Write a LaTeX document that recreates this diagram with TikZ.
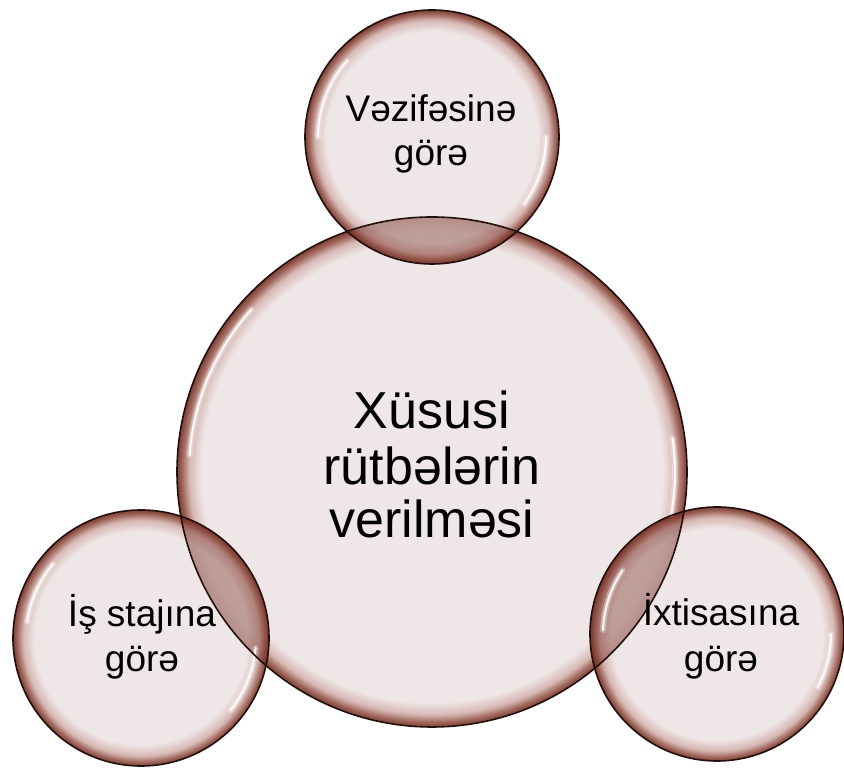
\documentclass[tikz,border=0pt]{standalone}
\usepackage{fontspec}
\setmainfont{Liberation Sans}
\definecolor{bin}{RGB}{237,227,227}
\definecolor{bmidl}{RGB}{208,172,167}
\definecolor{bmidd}{RGB}{145,78,66}
\definecolor{bedge}{RGB}{100,30,18}
\definecolor{bline}{RGB}{35,15,12}
\definecolor{blens}{RGB}{120,50,40}
\pgfdeclareradialshading{bubsmall}{\pgfpoint{0bp}{0bp}}{color(0bp)=(bin); color(20.8bp)=(bin); color(23bp)=(bmidl); color(24.2bp)=(bmidd); color(25bp)=(bedge); color(50bp)=(bedge)}
\pgfdeclareradialshading{bubbig}{\pgfpoint{0bp}{0bp}}{color(0bp)=(bin); color(22.6bp)=(bin); color(23.8bp)=(bmidl); color(24.5bp)=(bmidd); color(25bp)=(bedge); color(50bp)=(bedge)}
\newcommand\hlarc[4]{%
  \draw[white, opacity=0.3, line width=6pt, line cap=round] (#1.center) ++(#2:#4) arc[start angle=#2, end angle=#3, radius=#4];
  \draw[white, opacity=0.85, line width=2.2pt, line cap=round] (#1.center) ++(#2:#4) arc[start angle=#2, end angle=#3, radius=#4];}
\newcommand\lens[4]{%
  \begin{scope}
    \clip (#1.center) circle[radius=#2];
    \fill[blens, opacity=0.38] (#3.center) circle[radius=#4];
  \end{scope}}
\begin{document}
\begin{tikzpicture}[x=1pt,y=1pt,
  bubble/.style={circle, inner sep=0pt, draw=none, shade, fill opacity=0.85},
  rim/.style={draw=bline, line width=1.6pt},
  bigtxt/.style={anchor=base, inner sep=0pt, font=\fontsize{52}{52}\selectfont},
  smalltxt/.style={anchor=base, inner sep=0pt, font=\fontsize{37}{37}\selectfont}]
\useasboundingbox (0,0) rectangle (844,770);
\fill[white] (0,0) rectangle (844,770);
% bubbles
\node[bubble, shading=bubbig, minimum size=510pt] (C) at (432,298) {};
\node[bubble, shading=bubsmall, minimum size=254pt] (T) at (432,633) {};
\node[bubble, shading=bubsmall, minimum size=256pt] (L) at (141,132) {};
\node[bubble, shading=bubsmall, minimum size=254pt] (R) at (717,136) {};
% darker overlaps
\lens{C}{255pt}{T}{127pt}
\lens{C}{255pt}{L}{128pt}
\lens{C}{255pt}{R}{127pt}
% glossy highlights
\hlarc{C}{138}{176}{243pt}
\hlarc{C}{-10}{8}{243pt}
\hlarc{T}{138}{180}{114pt}
\hlarc{T}{-36}{0}{114pt}
\hlarc{L}{140}{172}{115pt}
\hlarc{L}{-39}{-5}{115pt}
\hlarc{R}{146}{178}{114pt}
\hlarc{R}{-28}{0}{114pt}
% outlines
\draw[rim] (C.center) circle[radius=255pt];
\draw[rim] (T.center) circle[radius=127pt];
\draw[rim] (L.center) circle[radius=128pt];
\draw[rim] (R.center) circle[radius=127pt];
% texts
\node[bigtxt] (c1) at (432,341) {Xüsusi};
\node[bigtxt] (c2) at (432,285) {rütbələrin};
\node[bigtxt] (c3) at (432,232) {verilməsi};
\node[smalltxt] (t1) at (431,648) {Vəzifəsinə};
\node[smalltxt] (t2) at (431,604) {görə};
\node[smalltxt] (l1) at (142,143) {İş stajına};
\node[smalltxt] (l2) at (142,98) {görə};
\node[smalltxt] (r1) at (721,144) {İxtisasına};
\node[smalltxt] (r2) at (721,98) {görə};
\end{tikzpicture}
\end{document}
